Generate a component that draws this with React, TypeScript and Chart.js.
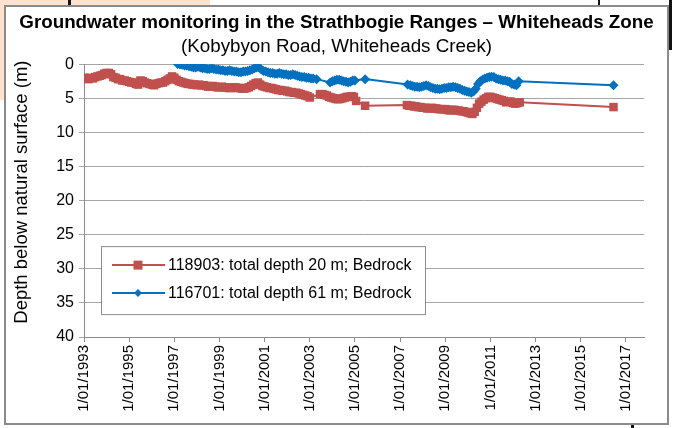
import React, { useEffect, useRef } from "react";
import { Chart, registerables } from "chart.js";

Chart.register(...registerables);

const titleText = "Groundwater monitoring in the Strathbogie Ranges – Whiteheads Zone";
const subtitleText = "(Kobybyon Road, Whiteheads Creek)";
const yAxisTitle = "Depth below natural surface (m)";

const tickYears = [1993, 1995, 1997, 1999, 2001, 2003, 2005, 2007, 2009, 2011, 2013, 2015, 2017];

const redLabel = "118903: total depth 20 m; Bedrock";
const redYears = [
  1993.0, 1993.1, 1993.2, 1993.3, 1993.4, 1993.5, 1993.6, 1993.7, 1993.8, 1993.9,
  1994.0, 1994.1, 1994.2, 1994.3, 1994.4, 1994.5, 1994.6, 1994.7, 1994.8, 1994.9,
  1995.0, 1995.1, 1995.2, 1995.3, 1995.4, 1995.5, 1995.6, 1995.7, 1995.8, 1995.9,
  1996.0, 1996.1, 1996.2, 1996.3, 1996.4, 1996.5, 1996.6, 1996.7, 1996.8, 1996.9,
  1997.0, 1997.1, 1997.2, 1997.3, 1997.4, 1997.5, 1997.6, 1997.7, 1997.8, 1997.9,
  1998.0, 1998.1, 1998.2, 1998.3, 1998.4, 1998.5, 1998.6, 1998.7, 1998.8, 1998.9,
  1999.0, 1999.1, 1999.2, 1999.3, 1999.4, 1999.5, 1999.6, 1999.7, 1999.8, 1999.9,
  2000.0, 2000.1, 2000.2, 2000.3, 2000.4, 2000.5, 2000.6, 2000.7, 2000.8, 2000.9,
  2001.0, 2001.1, 2001.2, 2001.3, 2001.4, 2001.5, 2001.6, 2001.7, 2001.8, 2001.9,
  2002.0, 2002.1, 2002.2, 2002.3, 2002.4, 2002.5, 2002.6, 2002.7, 2002.8, 2002.9,
  2003.0, 2003.45, 2003.55, 2003.65, 2003.75, 2003.85, 2003.95, 2004.05, 2004.15, 2004.25,
  2004.35, 2004.45, 2004.55, 2004.65, 2004.75, 2004.85, 2004.95, 2005.05, 2005.45,
  2007.3, 2007.4, 2007.5, 2007.6, 2007.7, 2007.8, 2007.9, 2008.0, 2008.1, 2008.2,
  2008.3, 2008.4, 2008.5, 2008.6, 2008.7, 2008.8, 2008.9, 2009.0, 2009.1, 2009.2,
  2009.3, 2009.4, 2009.5, 2009.6, 2009.7, 2009.8, 2009.9, 2010.0, 2010.1, 2010.2,
  2010.3, 2010.4, 2010.5, 2010.6, 2010.7, 2010.8, 2010.9, 2011.0, 2011.1, 2011.2,
  2011.3, 2011.4, 2011.5, 2011.6, 2011.7, 2011.8, 2011.9, 2012.0, 2012.1, 2012.2,
  2012.3, 2016.45,
];
const redDepths = [
  2.0, 2.1, 2.2, 2.0, 2.1, 1.9, 1.8, 1.7, 1.6, 1.4,
  1.3, 1.3, 1.5, 1.9, 2.0, 2.2, 2.2, 2.4, 2.4, 2.5,
  2.6, 2.7, 2.7, 2.9, 3.0, 2.4, 2.5, 2.7, 2.8, 2.9,
  3.0, 3.1, 2.9, 2.8, 2.7, 2.7, 2.5, 2.3, 2.1, 1.8,
  2.0, 2.3, 2.5, 2.6, 2.7, 2.8, 2.9, 2.9, 3.0, 3.0,
  3.1, 3.0, 3.1, 3.1, 3.2, 3.3, 3.3, 3.2, 3.3, 3.4,
  3.4, 3.3, 3.4, 3.4, 3.5, 3.5, 3.4, 3.4, 3.5, 3.5,
  3.6, 3.6, 3.5, 3.4, 3.2, 3.0, 2.8, 2.7, 3.0, 3.2,
  3.3, 3.4, 3.5, 3.5, 3.6, 3.7, 3.8, 3.8, 3.9, 3.9,
  4.0, 4.1, 4.1, 4.2, 4.2, 4.3, 4.4, 4.5, 4.6, 4.7,
  4.9, 4.4, 4.4, 4.5, 4.6, 4.8, 4.9, 5.0, 5.1, 5.15,
  5.1, 5.0, 4.9, 4.8, 4.8, 4.7, 4.8, 5.4, 6.1,
  6.0, 6.1, 6.1, 6.2, 6.2, 6.3, 6.3, 6.4, 6.4, 6.5,
  6.5, 6.4, 6.5, 6.5, 6.6, 6.6, 6.6, 6.6, 6.7, 6.8,
  6.7, 6.7, 6.8, 6.8, 6.9, 6.9, 7.0, 7.1, 7.2, 7.3,
  7.0, 6.4, 5.8, 5.5, 5.2, 5.0, 4.8, 4.8, 4.9, 5.0,
  5.1, 5.2, 5.3, 5.4, 5.6, 5.5, 5.5, 5.7, 5.8, 5.7,
  5.6, 6.3,
];

const blueLabel = "116701: total depth 61 m; Bedrock";
const blueYears = [
  1997.15, 1997.25, 1997.35, 1997.45, 1997.55, 1997.65, 1997.75, 1997.85, 1997.95, 1998.05,
  1998.15, 1998.25, 1998.35, 1998.45, 1998.55, 1998.65, 1998.75, 1998.85, 1998.95, 1999.05,
  1999.15, 1999.25, 1999.35, 1999.45, 1999.55, 1999.65, 1999.75, 1999.85, 1999.95, 2000.05,
  2000.15, 2000.25, 2000.35, 2000.45, 2000.55, 2000.65, 2000.75, 2000.85, 2000.95, 2001.05,
  2001.15, 2001.25, 2001.35, 2001.45, 2001.55, 2001.65, 2001.75, 2001.85, 2001.95, 2002.05,
  2002.15, 2002.25, 2002.35, 2002.45, 2002.55, 2002.65, 2002.75, 2002.85, 2002.95, 2003.05,
  2003.15, 2003.3, 2003.9, 2004.0, 2004.1, 2004.2, 2004.3, 2004.4, 2004.5, 2004.6,
  2004.7, 2004.8, 2004.9, 2005.0, 2005.45,
  2007.33, 2007.45, 2007.55, 2007.65, 2007.75, 2007.85, 2007.95, 2008.05, 2008.15, 2008.25,
  2008.35, 2008.45, 2008.55, 2008.65, 2008.75, 2008.85, 2008.95, 2009.05, 2009.15, 2009.25,
  2009.35, 2009.45, 2009.55, 2009.65, 2009.75, 2009.85, 2009.95, 2010.05, 2010.15, 2010.25,
  2010.35, 2010.45, 2010.55, 2010.65, 2010.75, 2010.85, 2010.95, 2011.05, 2011.15, 2011.25,
  2011.35, 2011.45, 2011.55, 2011.65, 2011.75, 2011.85, 2011.95, 2012.05, 2012.15, 2012.25,
  2016.45,
];
const blueDepths = [
  0.0, 0.05, 0.1, 0.2, 0.2, 0.3, 0.4, 0.5, 0.5, 0.4,
  0.5, 0.6, 0.6, 0.7, 0.7, 0.6, 0.7, 0.8, 0.8, 0.9,
  0.9, 1.0, 1.0, 0.9, 1.0, 1.1, 1.1, 1.2, 1.2, 1.1,
  1.1, 1.0, 0.9, 0.8, 0.6, 0.5, 0.5, 0.8, 1.0, 1.1,
  1.2, 1.3, 1.3, 1.4, 1.4, 1.3, 1.4, 1.5, 1.5, 1.6,
  1.6, 1.5, 1.6, 1.7, 1.8, 1.9, 1.9, 2.0, 2.0, 2.1,
  2.1, 2.2, 2.7, 2.5, 2.4, 2.3, 2.3, 2.4, 2.5, 2.6,
  2.7, 2.6, 2.4, 2.4, 2.2,
  3.0, 3.1, 3.2, 3.3, 3.3, 3.4, 3.3, 3.2, 3.1, 3.2,
  3.4, 3.5, 3.6, 3.6, 3.7, 3.6, 3.5, 3.5, 3.4, 3.4,
  3.3, 3.4, 3.5, 3.6, 3.8, 3.9, 4.0, 4.1, 4.2, 4.0,
  3.6, 2.9, 2.5, 2.3, 2.1, 2.0, 1.9, 1.85, 1.9, 2.1,
  2.2, 2.3, 2.4, 2.4, 2.5, 2.6, 2.9, 3.0, 3.1, 2.5,
  3.1,
];

const RED = "#C0504D";
const BLUE = "#0070C0";
const FONT = "'Liberation Sans', Arial, sans-serif";

const legendPlugin = {
  id: "insideLegend",
  afterDraw(chart: any) {
    const ctx = chart.ctx;
    const { left, top } = chart.chartArea;
    // y-axis title, placed like the original (slightly above the plot centre)
    ctx.save();
    ctx.translate(16, top + 128);
    ctx.rotate(-Math.PI / 2);
    ctx.fillStyle = "#000000";
    ctx.font = `18.5px ${FONT}`;
    ctx.textAlign = "center";
    ctx.textBaseline = "middle";
    ctx.fillText(yAxisTitle, 0, 0);
    ctx.restore();

    const bx = left + 17;
    const by = top + 182;
    const bw = 324;
    const bh = 68;
    ctx.save();
    ctx.fillStyle = "#ffffff";
    ctx.fillRect(bx, by, bw, bh);
    ctx.strokeStyle = "#8c8c8c";
    ctx.lineWidth = 1;
    ctx.strokeRect(bx + 0.5, by + 0.5, bw, bh);
    chart.data.datasets.forEach((ds: any, i: number) => {
      const y = by + 19 + i * 28;
      ctx.strokeStyle = ds.borderColor;
      ctx.lineWidth = 2;
      ctx.beginPath();
      ctx.moveTo(bx + 11, y);
      ctx.lineTo(bx + 64, y);
      ctx.stroke();
      ctx.fillStyle = ds.borderColor;
      ctx.beginPath();
      if (ds.pointStyle === "rect") {
        ctx.rect(bx + 37 - 4.5, y - 4.5, 9, 9);
      } else {
        ctx.moveTo(bx + 37, y - 4);
        ctx.lineTo(bx + 41, y);
        ctx.lineTo(bx + 37, y + 4);
        ctx.lineTo(bx + 33, y);
        ctx.closePath();
      }
      ctx.fill();
      ctx.fillStyle = "#000000";
      ctx.font = `16px ${FONT}`;
      ctx.textBaseline = "middle";
      ctx.textAlign = "left";
      ctx.fillText(ds.label, bx + 67, y);
    });
    ctx.restore();
  },
};

export default function App() {
  const canvasRef = useRef<HTMLCanvasElement | null>(null);

  useEffect(() => {
    if (!canvasRef.current) return;
    const redData = redYears.map((x, i) => ({ x, y: redDepths[i] }));
    const blueData = blueYears.map((x, i) => ({ x, y: blueDepths[i] }));
    const chart = new Chart(canvasRef.current, {
      type: "line",
      data: {
        datasets: [
          {
            label: redLabel,
            data: redData,
            borderColor: RED,
            backgroundColor: RED,
            borderWidth: 2,
            pointStyle: "rect",
            pointRadius: 6,
            pointBorderWidth: 0,
            tension: 0,
          },
          {
            label: blueLabel,
            data: blueData,
            borderColor: BLUE,
            backgroundColor: BLUE,
            borderWidth: 2,
            pointStyle: "rectRot",
            pointRadius: 5,
            pointBorderWidth: 0,
            tension: 0,
          },
        ],
      },
      options: {
        animation: false,
        responsive: false,
        maintainAspectRatio: false,
        layout: { padding: { left: 0, right: 0, top: 0, bottom: 0 } },
        plugins: {
          legend: { display: false },
          tooltip: { enabled: false },
          title: {
            display: true,
            text: titleText,
            color: "#000",
            font: { family: FONT, size: 18.8, weight: "bold" },
            padding: { top: 5, bottom: 0 },
          },
          subtitle: {
            display: true,
            text: subtitleText,
            color: "#000",
            font: { family: FONT, size: 18.8, weight: "normal" },
            padding: { top: 1, bottom: 6 },
          },
        },
        scales: {
          x: {
            type: "linear",
            min: 1993,
            max: 2017.8,
            grid: { drawOnChartArea: false, drawTicks: true, tickLength: 5, color: "#8c8c8c" },
            border: { color: "#8c8c8c", width: 1 },
            ticks: {
              autoSkip: false,
              maxRotation: 90,
              minRotation: 90,
              padding: 3,
              color: "#000",
              font: { family: FONT, size: 15 },
              callback: (v: any) => `1/01/${v}`,
            },
            afterBuildTicks: (scale: any) => {
              scale.ticks = tickYears.map((v) => ({ value: v }));
            },
            afterFit: (scale: any) => {
              scale.height = 86;
            },
          },
          y: {
            min: 0,
            max: 40,
            reverse: true,
            grid: { color: "#a6a6a6", tickLength: 5 },
            border: { color: "#8c8c8c", width: 1 },
            ticks: {
              stepSize: 5,
              padding: 5,
              color: "#000",
              font: { family: FONT, size: 16 },
            },
            afterFit: (scale: any) => {
              scale.width = 78;
            },
          },
          spacer: {
            type: "linear",
            position: "right",
            display: true,
            grid: { display: false, drawTicks: false },
            border: { display: false },
            ticks: { display: false },
            afterFit: (scale: any) => {
              scale.width = 23;
            },
          },
        },
      },
      plugins: [legendPlugin],
    });
    return () => chart.destroy();
  }, []);

  return (
    <div style={{ position: "fixed", left: 0, top: 0, width: 673, height: 428, background: "#ffffff", overflow: "hidden" }}>
      <div style={{ position: "absolute", left: 0, top: 0, width: 210, height: 6, background: "#fde2cf" }} />
      <div style={{ position: "absolute", left: 0, top: 0, width: 4, height: 100, background: "#fde2cf" }} />
      <div style={{ position: "absolute", left: 68, top: 0, width: 3, height: 6, background: "#111" }} />
      <div style={{ position: "absolute", left: 598, top: 0, width: 2, height: 6, background: "#111" }} />
      <div style={{ position: "absolute", left: 669, top: 0, width: 3, height: 50, background: "#111" }} />
      <div style={{ position: "absolute", left: 631, top: 424, width: 3, height: 4, background: "#111" }} />
      <div
        style={{
          position: "absolute",
          left: 4,
          top: 5,
          width: 665,
          height: 420,
          boxSizing: "border-box",
          border: "2px solid #8a8a8a",
          background: "#ffffff",
        }}
      >
        <canvas ref={canvasRef} width={661} height={416} style={{ display: "block", width: 661, height: 416 }} />
      </div>
    </div>
  );
}
